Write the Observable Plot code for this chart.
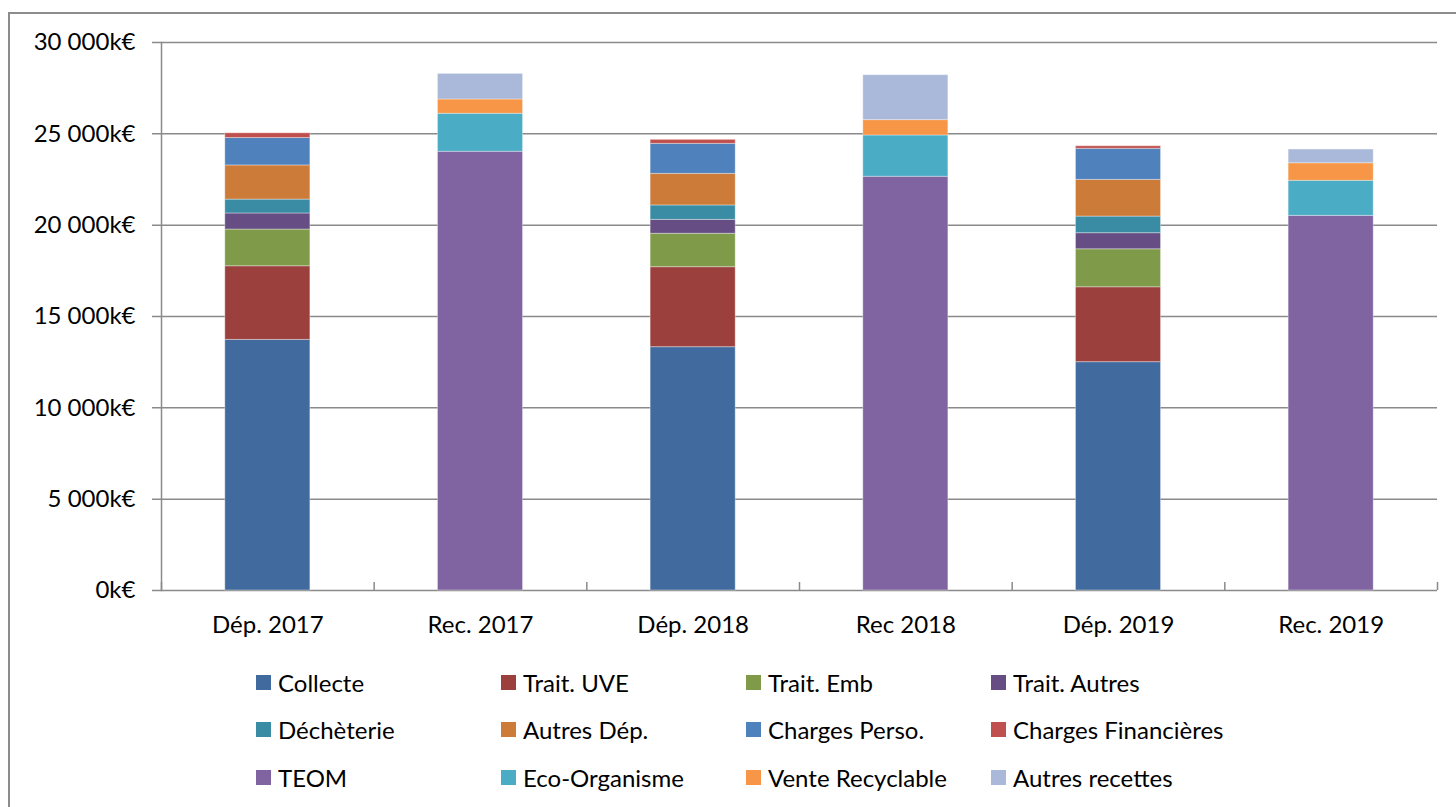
<!DOCTYPE html>
<html>
<head>
<meta charset="utf-8">
<script src="https://cdn.jsdelivr.net/npm/d3@7"></script>
<script src="https://cdn.jsdelivr.net/npm/@observablehq/plot@0.6"></script>
<style>
  html, body { margin: 0; padding: 0; background: #fff; }
  body { width: 1456px; height: 807px; position: relative; overflow: hidden; font-family: Lato, "Open Sans", sans-serif; }
  #frame { position: absolute; left: 8px; top: 12px; width: 1460px; height: 820px; border-left: 2px solid #8c8c8c; border-top: 2px solid #8c8c8c; box-sizing: border-box; }
  #chart { position: absolute; left: 0; top: 0; }
  .lg { position: absolute; display: flex; align-items: center; font-size: 24px; color: #000; white-space: nowrap; }
  .lg span.sw { display: inline-block; width: 15px; height: 15px; margin-right: 7px; }
</style>
</head>
<body>
<div id="frame"></div>
<div id="chart"></div>
<div id="legend"></div>
<script>
const categories = ["Dép. 2017", "Rec. 2017", "Dép. 2018", "Rec 2018", "Dép. 2019", "Rec. 2019"];
const seriesNames = ["Collecte", "Trait. UVE", "Trait. Emb", "Trait. Autres",
  "Déchèterie", "Autres Dép.", "Charges Perso.", "Charges Financières",
  "TEOM", "Eco-Organisme", "Vente Recyclable", "Autres recettes"];
const seriesColors = ["#416b9e", "#9c403e", "#7f9a48", "#664e84",
  "#3a8ca4", "#cd7b38", "#4f81bd", "#c0504d",
  "#8064a2", "#4bacc6", "#f79646", "#aab9d9"];

// values in k€, one per category
const collecte      = [13720, 0, 13320, 0, 12500, 0];
const traitUVE      = [4030, 0, 4380, 0, 4100, 0];
const traitEmb      = [2010, 0, 1830, 0, 2080, 0];
const traitAutres   = [880, 0, 760, 0, 880, 0];
const decheterie    = [760, 0, 790, 0, 910, 0];
const autresDep     = [1870, 0, 1730, 0, 2010, 0];
const chargesPerso  = [1500, 0, 1640, 0, 1700, 0];
const chargesFin    = [260, 0, 220, 0, 140, 0];
const teom          = [0, 24020, 0, 22650, 0, 20510];
const ecoOrganisme  = [0, 2080, 0, 2260, 0, 1920];
const venteRecycl   = [0, 780, 0, 840, 0, 960];
const autresRecettes= [0, 1400, 0, 2460, 0, 750];

const yTicks = [0, 5000, 10000, 15000, 20000, 25000, 30000];

const seriesValues = [collecte, traitUVE, traitEmb, traitAutres, decheterie, autresDep,
  chargesPerso, chargesFin, teom, ecoOrganisme, venteRecycl, autresRecettes];

const table = [];
seriesNames.forEach((s, si) => {
  seriesValues[si].forEach((v, ci) => {
    if (v > 0) table.push({series: s, cat: categories[ci], value: v});
  });
});

const W = 1456, H = 640, ML = 161, MR = 19, MT = 42, MB = 50;
const step = (W - ML - MR) / categories.length;
const gray = "#8a8a8a";
const fmt = d => d3.format(",")(d).replace(/,/g, " ") + "k€";

const chart = Plot.plot({
  width: W, height: H,
  marginLeft: ML, marginRight: MR, marginTop: MT, marginBottom: MB,
  style: {fontFamily: "Lato, 'Open Sans', sans-serif", fontSize: "24px", color: "#000", background: "transparent", overflow: "visible"},
  x: {domain: categories, paddingInner: 0.6, paddingOuter: 0.3, round: false, label: null},
  y: {domain: [0, 30000], label: null},
  color: {domain: seriesNames, range: seriesColors},
  marks: [
    Plot.ruleY(yTicks, {stroke: gray, strokeWidth: 1.5, insetLeft: -9}),
    Plot.barY(table, {x: "cat", y: "value", fill: "series", stroke: "#ffffff", strokeOpacity: 0.35, strokeWidth: 1}),
    Plot.ruleX(categories, {stroke: gray, strokeWidth: 1.5, dx: -step / 2, insetTop: (H - MT - MB) - 8}),
    Plot.ruleX([categories[categories.length - 1]], {stroke: gray, strokeWidth: 1.5, dx: step / 2, insetTop: (H - MT - MB) - 8}),
    Plot.frame({anchor: "left", stroke: gray, strokeWidth: 1.5}),
    Plot.axisY({ticks: yTicks, tickSize: 0, tickPadding: 26, tickFormat: fmt}),
    Plot.axisX({tickSize: 0, tickPadding: 25})
  ]
});
document.getElementById("chart").appendChild(chart);

// legend
const legendCols = [256, 501, 746, 991];
const legendRows = [682, 729.5, 777];
const legend = document.getElementById("legend");
seriesNames.forEach((s, i) => {
  const col = i % 4, row = Math.floor(i / 4);
  const div = document.createElement("div");
  div.className = "lg";
  div.style.left = legendCols[col] + "px";
  div.style.top = (legendRows[row] - 15) + "px";
  div.style.height = "30px";
  const sw = document.createElement("span");
  sw.className = "sw";
  sw.style.background = seriesColors[i];
  div.appendChild(sw);
  div.appendChild(document.createTextNode(s));
  legend.appendChild(div);
});
</script>
</body>
</html>
